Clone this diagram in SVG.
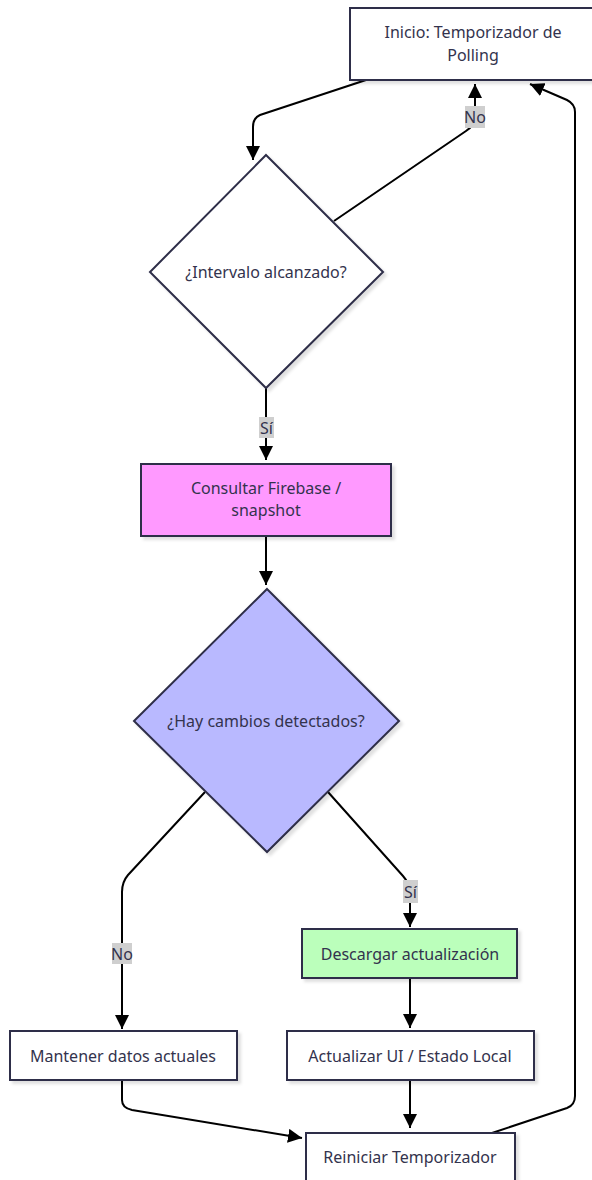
<svg xmlns="http://www.w3.org/2000/svg" width="592" height="1180" viewBox="0 0 592 1180">
  <style>
    .node { stroke: #2e2e48; stroke-width: 2; filter: url(#shadow); }
    .plain { fill: #ffffff; }
    .query { fill: #ff99ff; }
    .decide { fill: #b9b9ff; }
    .fetch { fill: #bbffbb; }
    .label { font-family: "Noto Sans", "Open Sans", sans-serif; font-size: 16px; fill: #33334d; text-anchor: middle; dominant-baseline: central; }
    .edge { fill: none; stroke: #000000; stroke-width: 2; marker-end: url(#arrow); }
    .tagbg { fill: #cfcfcf; }
  </style>
  <defs>
    <marker id="arrow" markerUnits="userSpaceOnUse" markerWidth="14" markerHeight="14" viewBox="0 0 12 12" refX="12" refY="6" orient="auto">
      <path d="M0,0 L12,6 L0,12 Z" fill="#000000"/>
    </marker>
    <filter id="shadow" x="-10%" y="-10%" width="130%" height="130%">
      <feDropShadow dx="3" dy="3" stdDeviation="1.5" flood-color="#000000" flood-opacity="0.12"/>
    </filter>
  </defs>
  <rect width="592" height="1180" fill="#ffffff"/>

  <!-- connectors -->
  <g id="connectors">
    <path class="edge" d="M366,80 L260,115 Q253,118 253,127 L253,160"/>
    <path class="edge" d="M334,221 L466,131 Q475,125 475,118 L475,84"/>
    <path class="edge" d="M266,388 L266,460"/>
    <path class="edge" d="M266,536 L266,585"/>
    <path class="edge" d="M205,792 L128,875 Q122,882 122,892 L122,1029"/>
    <path class="edge" d="M328,792 L403,876 Q410,884 410,892 L410,927"/>
    <path class="edge" d="M410,978 L410,1028"/>
    <path class="edge" d="M122,1080 L122,1100 Q122,1108 132,1110 L302,1138"/>
    <path class="edge" d="M410,1080 L410,1128"/>
    <path class="edge" d="M492,1133 L567,1108 Q575,1105 575,1096 L575,112 Q575,104 567,100 L530,84"/>

    <!-- branch tags -->
    <rect class="tagbg" x="465" y="106" width="20" height="22"/>
    <text class="label" x="475" y="117">No</text>
    <rect class="tagbg" x="259" y="417" width="15" height="21"/>
    <text class="label" x="266.5" y="427.5">Sí</text>
    <rect class="tagbg" x="403" y="880" width="15" height="23"/>
    <text class="label" x="410.5" y="891.5">Sí</text>
    <rect class="tagbg" x="112" y="943" width="20" height="21"/>
    <text class="label" x="122" y="953.5">No</text>
  </g>

  <g id="start">
    <rect class="node plain" x="350" y="8" width="246" height="72"/>
    <text class="label" x="473" y="32">Inicio: Temporizador de</text>
    <text class="label" x="473" y="55">Polling</text>
  </g>

  <g id="interval">
    <polygon class="node plain" points="266,155 383,272 266,388 150,272"/>
    <text class="label" x="266" y="272">¿Intervalo alcanzado?</text>
  </g>

  <g id="query">
    <rect class="node query" x="141" y="464" width="250" height="72"/>
    <text class="label" x="266" y="488">Consultar Firebase /</text>
    <text class="label" x="266" y="510">snapshot</text>
  </g>

  <g id="changes">
    <polygon class="node decide" points="267,589 399,721 267,852 134,721"/>
    <text class="label" x="266" y="721">¿Hay cambios detectados?</text>
  </g>

  <g id="download">
    <rect class="node fetch" x="302" y="929" width="215" height="49"/>
    <text class="label" x="410" y="954">Descargar actualización</text>
  </g>

  <g id="keep">
    <rect class="node plain" x="10" y="1031" width="227" height="49"/>
    <text class="label" x="123" y="1056">Mantener datos actuales</text>
  </g>

  <g id="update">
    <rect class="node plain" x="287" y="1031" width="247" height="49"/>
    <text class="label" x="410" y="1056">Actualizar UI / Estado Local</text>
  </g>

  <g id="restart">
    <rect class="node plain" x="306" y="1133" width="209" height="52"/>
    <text class="label" x="410" y="1157">Reiniciar Temporizador</text>
  </g>
</svg>
